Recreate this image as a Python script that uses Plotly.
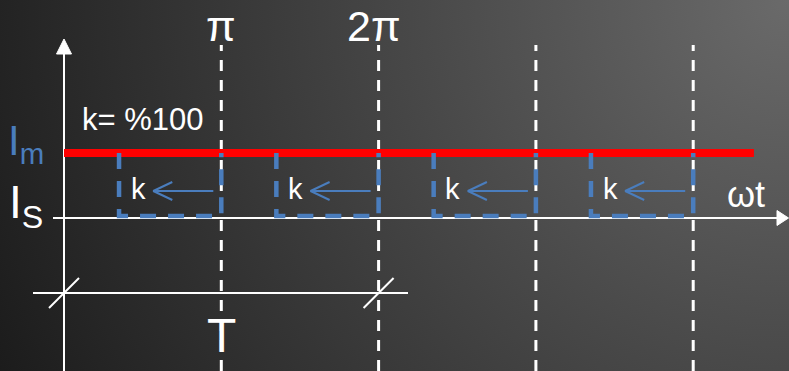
"""Current waveform sketch: I_m level with k pulses over each half period."""

import base64

import plotly.graph_objects as go

# ---- data (x in units of pi, y in units of I_m) ----
half_periods = [1, 2, 3, 4]          # dashed verticals at pi, 2pi, 3pi, 4pi
top_labels = ["π", "2π"]             # labels above the first two
top_label_pos = [1, 2]
i_m = 1.0                             # red level
i_s = 0.0                             # horizontal axis level
pulse_width = 0.65                    # blue k-box width (in pi units)
red_end = 4.386
k_text = "k= %100"
period_start, period_end = 0, 2       # dimension line marks T
dim_level = -1.154

# ---- pixel-like frame ----
W, H = 789, 371
X0, XS = 64, 157.3                    # px of x=0, px per pi
Y0, YS = 218, 65                      # px of y=0, px per unit
x_rng = [-X0 / XS, (W - X0) / XS]
y_rng = [-(H - Y0) / YS, Y0 / YS]
px = 1 / XS
py = 1 / YS

WHITE = "#ffffff"
BLUE = "#4a7dbd"
RED = "#ff0000"
FONT = "Arial, Liberation Sans, sans-serif"

svg = (
    "<svg xmlns='http://www.w3.org/2000/svg' width='789' height='371'>"
    "<defs><radialGradient id='g' gradientUnits='userSpaceOnUse' cx='789' cy='0' r='880'>"
    "<stop offset='0' stop-color='#6a6a6a'/><stop offset='1' stop-color='#1b1b1b'/>"
    "</radialGradient></defs><rect width='789' height='371' fill='url(#g)'/></svg>"
)
bg = "data:image/svg+xml;base64," + base64.b64encode(svg.encode()).decode()

fig = go.Figure()


def seg(xs, ys, color, width, dash="solid", fill=None):
    fig.add_trace(go.Scatter(
        x=xs, y=ys, mode="lines", hoverinfo="skip",
        line=dict(color=color, width=width, dash=dash),
        fill=fill, fillcolor=color if fill else None,
    ))


# white dashed period lines
for hp in half_periods:
    seg([hp, hp], [y_rng[0], (Y0 - 45) * py], WHITE, 3, "11px,9px")

# axes
seg([0, 0], [y_rng[0], (Y0 - 53) * py], WHITE, 2)
seg([-7.5 * px, 0, 7.5 * px, -7.5 * px],
    [(Y0 - 54) * py, (Y0 - 39) * py, (Y0 - 54) * py, (Y0 - 54) * py], WHITE, 1, fill="toself")
seg([-11 * px, (777 - X0) * px], [i_s, i_s], WHITE, 2)
seg([(777 - X0) * px, x_rng[1] - 0.5 * px, (777 - X0) * px, (777 - X0) * px],
    [7.5 * py, 0, -7.5 * py, 7.5 * py], WHITE, 1, fill="toself")

# I_m level
seg([0, red_end], [i_m, i_m], RED, 8)

# k boxes with arrows
bot = i_s + 2 * py
ya = (Y0 - 191) * py
for hp in half_periods:
    left = hp - pulse_width
    seg([left, left, hp, hp], [i_m, bot, bot, i_m], BLUE, 4.5, "16px,12px")
    tip = hp - 68 * px
    seg([hp - 8 * px, tip], [ya, ya], BLUE, 2)
    seg([tip + 19 * px, tip, tip + 19 * px], [ya + 9 * py, ya, ya - 9 * py], BLUE, 2)
    fig.add_annotation(x=hp - 83 * px, y=(Y0 - 189) * py, text="k", showarrow=False,
                       font=dict(family=FONT, size=29, color=WHITE))

# dimension line for T
seg([-31 * px, (408 - X0) * px], [dim_level, dim_level], WHITE, 2)
for p in (period_start, period_end):
    seg([p - 15 * px, p + 15 * px], [dim_level - 15 * py, dim_level + 15 * py], WHITE, 2)
fig.add_annotation(x=(period_start + period_end) / 2, y=(Y0 - 335) * py, text="T",
                   showarrow=False, font=dict(family=FONT, size=48, color=WHITE))

# labels
for lab, pos in zip(top_labels, top_label_pos):
    fig.add_annotation(x=pos, y=(Y0 - 26) * py, text=lab, showarrow=False,
                       xshift=-5 if len(lab) > 1 else 0,
                       font=dict(family=FONT, size=43, color=WHITE))
fig.add_annotation(x=(143 - X0) * px, y=(Y0 - 119) * py, text=k_text, showarrow=False,
                   font=dict(family=FONT, size=31, color=WHITE))
fig.add_annotation(x=(746 - X0) * px, y=(Y0 - 194) * py, text="ωt", showarrow=False,
                   font=dict(family=FONT, size=36, color=WHITE))
fig.add_annotation(x=(6 - X0) * px, y=(Y0 - 143) * py, text="I<sub>m</sub>", showarrow=False,
                   xanchor="left", font=dict(family=FONT, size=42, color=BLUE))
fig.add_annotation(x=(7 - X0) * px, y=(Y0 - 205) * py, text="I<sub>S</sub>", showarrow=False,
                   xanchor="left", font=dict(family=FONT, size=46, color=WHITE))

fig.update_layout(
    width=W, height=H,
    margin=dict(l=0, r=0, t=0, b=0),
    showlegend=False,
    paper_bgcolor="#2a2a2a",
    plot_bgcolor="rgba(0,0,0,0)",
    xaxis=dict(range=x_rng, visible=False, fixedrange=True),
    yaxis=dict(range=y_rng, visible=False, fixedrange=True),
    images=[dict(source=bg, xref="paper", yref="paper", x=0, y=1, sizex=1, sizey=1,
                 sizing="stretch", layer="below")],
)

fig.write_html("out.html", config={"displayModeBar": False},
               post_script="document.body.style.margin='0';")
